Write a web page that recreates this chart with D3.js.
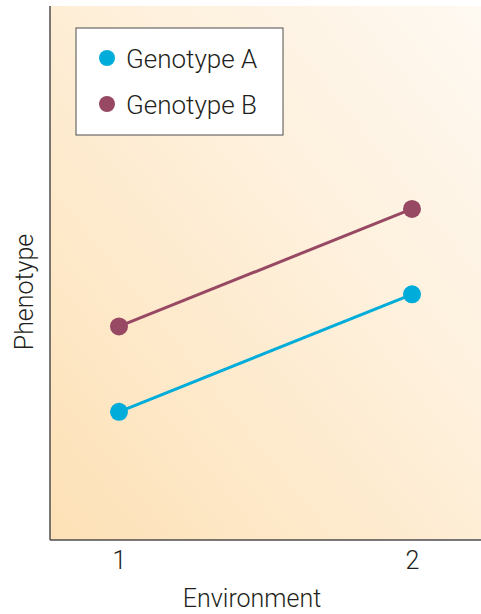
<!DOCTYPE html>
<html>
<head>
<meta charset="utf-8">
<script src="https://cdn.jsdelivr.net/npm/d3@7"></script>
<style>
  body { margin: 0; background: #fff; }
  text { font-family: Roboto, "Liberation Sans", Arial, sans-serif; font-weight: 300; fill: #231f20; }
</style>
</head>
<body>
<svg id="chart" width="481" height="614"></svg>
<script>
// data
var environments = [1, 2];
var genotypeA = [2.4, 4.6];
var genotypeB = [4.0, 6.2];
var seriesNames = ["Genotype A", "Genotype B"];
var seriesColors = ["#00acd9", "#974863"];

var dims = {
  width: 481,
  height: 614,
  margin: { top: 6, right: 0, bottom: 74, left: 50 },
};
dims.boundedWidth = dims.width - dims.margin.left - dims.margin.right;
dims.boundedHeight = dims.height - dims.margin.top - dims.margin.bottom;

var svg = d3.select("#chart");

// background gradient, bottom-left warm to top-right pale
var defs = svg.append("defs");
var grad = defs
  .append("linearGradient")
  .attr("id", "bg")
  .attr("x1", "0%")
  .attr("y1", "100%")
  .attr("x2", "100%")
  .attr("y2", "0%");
grad.append("stop").attr("offset", "0%").attr("stop-color", "#fde1b6");
grad.append("stop").attr("offset", "55%").attr("stop-color", "#feefd9");
grad.append("stop").attr("offset", "100%").attr("stop-color", "#fef9f2");

var bounds = svg
  .append("g")
  .attr("transform", "translate(" + dims.margin.left + "," + dims.margin.top + ")");

bounds
  .append("rect")
  .attr("width", dims.boundedWidth)
  .attr("height", dims.boundedHeight)
  .attr("fill", "url(#bg)");

// scales
var xScale = d3.scaleLinear().domain([1, 2]).range([69, 362]);
var yScale = d3.scaleLinear().domain([0, 10]).range([dims.boundedHeight, 0]);

// axes (plain lines, no ticks)
var xAxis = d3.axisBottom(xScale).tickValues(environments).tickSize(0).tickPadding(11).tickFormat(d3.format("d"));
var xAxisG = bounds
  .append("g")
  .attr("transform", "translate(0," + dims.boundedHeight + ")")
  .call(xAxis);
xAxisG.select(".domain").remove();
xAxisG.selectAll("text")
  .style("font-size", "25px")
  .style("font-weight", "300")
  .attr("fill", "#231f20")
  .style("font-family", "Roboto, 'Liberation Sans', Arial, sans-serif");

bounds
  .append("line")
  .attr("x1", 0)
  .attr("x2", dims.boundedWidth)
  .attr("y1", dims.boundedHeight)
  .attr("y2", dims.boundedHeight)
  .attr("stroke", "#4d4d4f")
  .attr("stroke-width", 1.5);
bounds
  .append("line")
  .attr("x1", 0)
  .attr("x2", 0)
  .attr("y1", 0)
  .attr("y2", dims.boundedHeight)
  .attr("stroke", "#4d4d4f")
  .attr("stroke-width", 1.5);

// axis labels
svg
  .append("text")
  .attr("x", 252)
  .attr("y", 607)
  .attr("text-anchor", "middle")
  .style("font-size", "25px")
  .text("Environment");

svg
  .append("text")
  .attr("transform", "translate(33,292) rotate(-90)")
  .attr("text-anchor", "middle")
  .style("font-size", "25px")
  .text("Phenotype");

// lines + points
var series = [genotypeA, genotypeB];
var line = d3
  .line()
  .x(function (d, i) { return xScale(environments[i]); })
  .y(function (d) { return yScale(d); });

series.forEach(function (vals, s) {
  bounds
    .append("path")
    .datum(vals)
    .attr("d", line)
    .attr("fill", "none")
    .attr("stroke", seriesColors[s])
    .attr("stroke-width", 3);
  bounds
    .selectAll(".pt" + s)
    .data(vals)
    .enter()
    .append("circle")
    .attr("cx", function (d, i) { return xScale(environments[i]); })
    .attr("cy", function (d) { return yScale(d); })
    .attr("r", 9)
    .attr("fill", seriesColors[s]);
});

// legend
var legend = svg.append("g").attr("transform", "translate(76,28)");
legend
  .append("rect")
  .attr("width", 207)
  .attr("height", 107)
  .attr("fill", "#fff")
  .attr("stroke", "#4d4d4f")
  .attr("stroke-width", 1);
seriesNames.forEach(function (name, i) {
  var row = legend.append("g").attr("transform", "translate(0," + (30 + i * 46) + ")");
  row.append("circle").attr("cx", 31).attr("cy", 0).attr("r", 8).attr("fill", seriesColors[i]);
  row
    .append("text")
    .attr("x", 50)
    .attr("y", 10)
    .style("font-size", "26px")
    .text(name);
});
</script>
</body>
</html>
